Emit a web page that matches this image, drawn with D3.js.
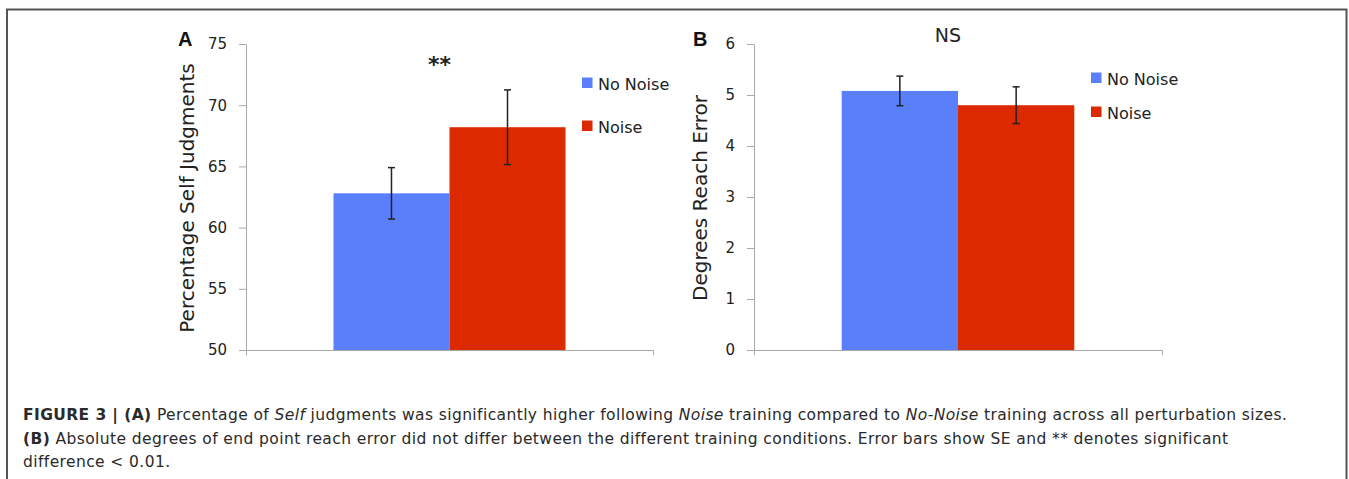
<html>
  <head>
    <style>
      body { margin: 0; background: #fff; }
      svg text { font-family: "DejaVu Sans", sans-serif; }
    </style>
  </head>
  <body>
    <svg width="1349" height="479"></svg>
    <script src="https://d3js.org/d3.v7.min.js"></script>
    <script>
      var series   = ["No Noise", "Noise"],
          colors   = ["#5a7ffb", "#dc2900"],
          selfVals = [62.8, 68.2],
          selfErr  = [2.1, 3.05],
          reachVals = [5.08, 4.80],
          reachErr  = [0.29, 0.36],
          selfTicks  = [50, 55, 60, 65, 70, 75],
          reachTicks = [0, 1, 2, 3, 4, 5, 6];

      var svg = d3.select("svg");

      // frame
      svg.append("path")
          .attr("d", "M7,479 V9.5 H1346.5 V479")
          .attr("fill", "none")
          .attr("stroke", "#555")
          .attr("stroke-width", 2);

      function panel(opt) {
        var g = svg.append("g").attr("transform", "translate(" + opt.left + ",0)");

        var y = d3.scaleLinear().domain(opt.domain).range([350, 44]);
        var x = d3.scaleBand().domain([""]).range([0, opt.width])
            .paddingInner(0).paddingOuter(0.377);
        var xs = d3.scaleBand().domain(series).range([0, x.bandwidth()]);

        var yAxis = g.append("g")
            .call(d3.axisLeft(y).tickValues(opt.ticks).tickFormat(d3.format("d"))
                .tickSize(7).tickSizeOuter(0).tickPadding(12));
        yAxis.selectAll("line, path").attr("stroke", "#a9a9a9");
        yAxis.selectAll("text").attr("font-size", 15).attr("fill", "#222")
            .style("font-family", "DejaVu Sans");

        var xAxis = g.append("g").attr("transform", "translate(0,350)")
            .call(d3.axisBottom(x).tickSize(0).tickSizeOuter(5));
        xAxis.selectAll("path").attr("stroke", "#a9a9a9");
        xAxis.selectAll("text").remove();

        var bars = g.append("g").attr("transform", "translate(" + x("") + ",0)");
        bars.selectAll("rect")
            .data(opt.vals)
            .enter().append("rect")
            .attr("x", function(d, i) { return xs(series[i]); })
            .attr("y", function(d) { return y(d); })
            .attr("width", xs.bandwidth())
            .attr("height", function(d) { return y(opt.domain[0]) - y(d); })
            .attr("fill", function(d, i) { return colors[i]; });

        var err = bars.selectAll("g.err")
            .data(opt.vals)
            .enter().append("g")
            .attr("class", "err")
            .attr("stroke", "#222")
            .attr("stroke-width", 1.5);
        err.append("line")
            .attr("x1", function(d, i) { return xs(series[i]) + xs.bandwidth() / 2; })
            .attr("x2", function(d, i) { return xs(series[i]) + xs.bandwidth() / 2; })
            .attr("y1", function(d, i) { return y(d + opt.err[i]); })
            .attr("y2", function(d, i) { return y(d - opt.err[i]); });
        [1, -1].forEach(function(s) {
          err.append("line")
              .attr("x1", function(d, i) { return xs(series[i]) + xs.bandwidth() / 2 - 3.5; })
              .attr("x2", function(d, i) { return xs(series[i]) + xs.bandwidth() / 2 + 3.5; })
              .attr("y1", function(d, i) { return y(d + s * opt.err[i]); })
              .attr("y2", function(d, i) { return y(d + s * opt.err[i]); });
        });

        // significance mark
        g.append("text")
            .attr("x", x("") + x.bandwidth() / 2 - 10)
            .attr("y", opt.sigY)
            .attr("text-anchor", "middle")
            .attr("font-size", opt.sigSize)
            .attr("font-weight", opt.sigWeight)
            .attr("fill", "#222")
            .text(opt.sig);

        // legend
        var leg = g.selectAll("g.leg")
            .data(series)
            .enter().append("g")
            .attr("class", "leg")
            .attr("transform", function(d, i) { return "translate(" + (opt.width - 71) + "," + (opt.legY + i * opt.legStep) + ")"; });
        leg.append("rect")
            .attr("x", 0).attr("y", -10.5)
            .attr("width", 10.5).attr("height", 10.5)
            .attr("fill", function(d, i) { return colors[i]; });
        leg.append("text")
            .attr("x", 16).attr("y", 2)
            .attr("font-size", 16)
            .attr("fill", "#222")
            .text(function(d) { return d; });

        // y title
        g.append("text")
            .attr("transform", "translate(" + opt.titleX + ",198) rotate(-90)")
            .attr("text-anchor", "middle")
            .attr("font-size", 20)
            .attr("fill", "#222")
            .text(opt.title);

        // panel letter
        g.append("text")
            .attr("x", opt.letterX)
            .attr("y", 46)
            .attr("font-size", 20)
            .attr("font-weight", "bold")
            .attr("fill", "#111")
            .style("font-family", "Liberation Sans")
            .text(opt.letter);
      }

      panel({ left: 246, width: 407, domain: [50, 75], ticks: selfTicks,
              vals: selfVals, err: selfErr, sig: "**", sigY: 72, sigSize: 22, sigWeight: "bold",
              legY: 88, legStep: 43, title: "Percentage Self Judgments", titleX: -52,
              letter: "A", letterX: -68 });
      panel({ left: 754, width: 408, domain: [0, 6], ticks: reachTicks,
              vals: reachVals, err: reachErr, sig: "NS", sigY: 42, sigSize: 19, sigWeight: null,
              legY: 83, legStep: 34, title: "Degrees Reach Error", titleX: -47,
              letter: "B", letterX: -61 });

      // caption
      var cap = svg.append("g").attr("class", "caption");
      var lines = [
        [["FIGURE 3 | (A)", "b"], [" Percentage of ", ""], ["Self", "i"], [" judgments was significantly higher following ", ""], ["Noise", "i"], [" training compared to ", ""], ["No-Noise", "i"], [" training across all perturbation sizes.", ""]],
        [["(B)", "b"], [" Absolute degrees of end point reach error did not differ between the different training conditions. Error bars show SE and ** denotes significant", ""]],
        [["difference < 0.01.", ""]]
      ];
      cap.selectAll("text")
          .data(lines)
          .enter().append("text")
          .attr("x", 23)
          .attr("y", function(d, i) { return 420 + i * 23.5; })
          .attr("font-size", 15.5)
          .attr("letter-spacing", 0.4)
          .attr("fill", "#2a2a2a")
          .style("font-family", "DejaVu Sans")
          .selectAll("tspan")
          .data(function(d) { return d; })
          .enter().append("tspan")
          .attr("font-weight", function(d) { return d[1] === "b" ? "bold" : null; })
          .attr("font-style", function(d) { return d[1] === "i" ? "italic" : null; })
          .style("white-space", "pre")
          .text(function(d) { return d[0]; });
    </script>
  </body>
</html>
